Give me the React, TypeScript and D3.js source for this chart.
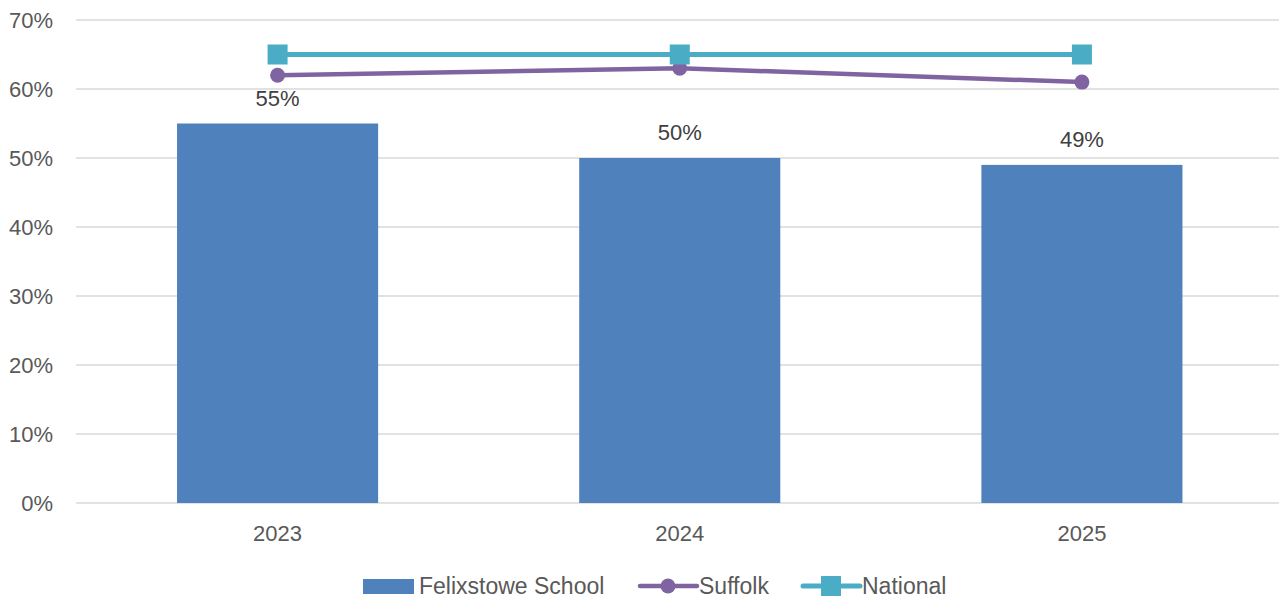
import React, { useEffect, useRef } from "react";
import * as d3 from "d3";

const years = ["2023", "2024", "2025"];
const schoolValues = [55, 50, 49];
const suffolkValues = [62, 63, 61];
const nationalValues = [65, 65, 65];
const yTicks = [0, 10, 20, 30, 40, 50, 60, 70];

const W = 1279;
const H = 601;
const FONT = "'Liberation Sans', Arial, sans-serif";

const App: React.FC = () => {
  const svgRef = useRef<SVGSVGElement>(null);

  useEffect(() => {
    if (!svgRef.current) return;
    const svg = d3.select(svgRef.current);
    svg.selectAll("*").remove();

    const x = d3.scaleBand().domain(years).range([76.5, 1283]);
    const y = d3.scaleLinear().domain([0, 70]).range([503, 20]);
    const barW = x.bandwidth() / 2;
    const cx = (d: string) => x(d)! + x.bandwidth() / 2;

    // GRID + Y LABELS
    const grid = svg.append("g");
    grid
      .selectAll("line")
      .data(yTicks)
      .enter()
      .append("line")
      .attr("x1", 76)
      .attr("x2", W)
      .attr("y1", d => y(d))
      .attr("y2", d => y(d))
      .attr("stroke", "#d9d9d9")
      .attr("stroke-width", 1.5);
    grid
      .selectAll("text")
      .data(yTicks)
      .enter()
      .append("text")
      .attr("x", 53)
      .attr("y", d => y(d) + 8)
      .attr("text-anchor", "end")
      .attr("fill", "#595959")
      .style("font-family", FONT)
      .style("font-size", "22px")
      .text(d => `${d}%`);

    // BARS
    svg
      .append("g")
      .selectAll("rect")
      .data(years)
      .enter()
      .append("rect")
      .attr("x", d => cx(d) - barW / 2)
      .attr("y", (d, i) => y(schoolValues[i]))
      .attr("width", barW)
      .attr("height", (d, i) => y(0) - y(schoolValues[i]))
      .attr("fill", "#4f81bd");

    // BAR LABELS
    svg
      .append("g")
      .selectAll("text")
      .data(years)
      .enter()
      .append("text")
      .attr("x", d => cx(d))
      .attr("y", (d, i) => y(schoolValues[i]) - 18)
      .attr("text-anchor", "middle")
      .attr("fill", "#404040")
      .style("font-family", FONT)
      .style("font-size", "22px")
      .text((d, i) => `${schoolValues[i]}%`);

    // X LABELS
    svg
      .append("g")
      .selectAll("text")
      .data(years)
      .enter()
      .append("text")
      .attr("x", d => cx(d))
      .attr("y", 541)
      .attr("text-anchor", "middle")
      .attr("fill", "#595959")
      .style("font-family", FONT)
      .style("font-size", "22px")
      .text(d => d);

    const line = d3
      .line<number>()
      .x((d, i) => cx(years[i]))
      .y(d => y(d));

    // SUFFOLK
    svg
      .append("path")
      .attr("d", line(suffolkValues)!)
      .attr("fill", "none")
      .attr("stroke", "#8064a2")
      .attr("stroke-width", 4.5);
    svg
      .append("g")
      .selectAll("circle")
      .data(suffolkValues)
      .enter()
      .append("circle")
      .attr("cx", (d, i) => cx(years[i]))
      .attr("cy", d => y(d))
      .attr("r", 7.5)
      .attr("fill", "#8064a2");

    // NATIONAL
    svg
      .append("path")
      .attr("d", line(nationalValues)!)
      .attr("fill", "none")
      .attr("stroke", "#4bacc6")
      .attr("stroke-width", 5);
    svg
      .append("g")
      .selectAll("rect")
      .data(nationalValues)
      .enter()
      .append("rect")
      .attr("x", (d, i) => cx(years[i]) - 10)
      .attr("y", d => y(d) - 10)
      .attr("width", 20)
      .attr("height", 20)
      .attr("fill", "#4bacc6");

    // LEGEND
    const lg = svg.append("g").style("font-family", FONT).style("font-size", "23px");
    const ly = 586;
    lg.append("rect")
      .attr("x", 363)
      .attr("y", ly - 7)
      .attr("width", 51)
      .attr("height", 15)
      .attr("fill", "#4f81bd");
    lg.append("text").attr("x", 419).attr("y", ly + 8).attr("fill", "#595959").text("Felixstowe School");

    lg.append("line")
      .attr("x1", 640)
      .attr("x2", 697)
      .attr("y1", ly)
      .attr("y2", ly)
      .attr("stroke", "#8064a2")
      .attr("stroke-width", 4.5)
      .attr("stroke-linecap", "round");
    lg.append("circle").attr("cx", 668).attr("cy", ly).attr("r", 7.5).attr("fill", "#8064a2");
    lg.append("text").attr("x", 699).attr("y", ly + 8).attr("fill", "#595959").text("Suffolk");

    lg.append("line")
      .attr("x1", 803)
      .attr("x2", 860)
      .attr("y1", ly)
      .attr("y2", ly)
      .attr("stroke", "#4bacc6")
      .attr("stroke-width", 5)
      .attr("stroke-linecap", "round");
    lg.append("rect").attr("x", 821).attr("y", ly - 10).attr("width", 20).attr("height", 20).attr("fill", "#4bacc6");
    lg.append("text").attr("x", 862).attr("y", ly + 8).attr("fill", "#595959").text("National");
  }, []);

  return (
    <svg
      ref={svgRef}
      width={W}
      height={H}
      style={{ position: "absolute", left: 0, top: 0, background: "#fff" }}
    />
  );
};

export default App;
